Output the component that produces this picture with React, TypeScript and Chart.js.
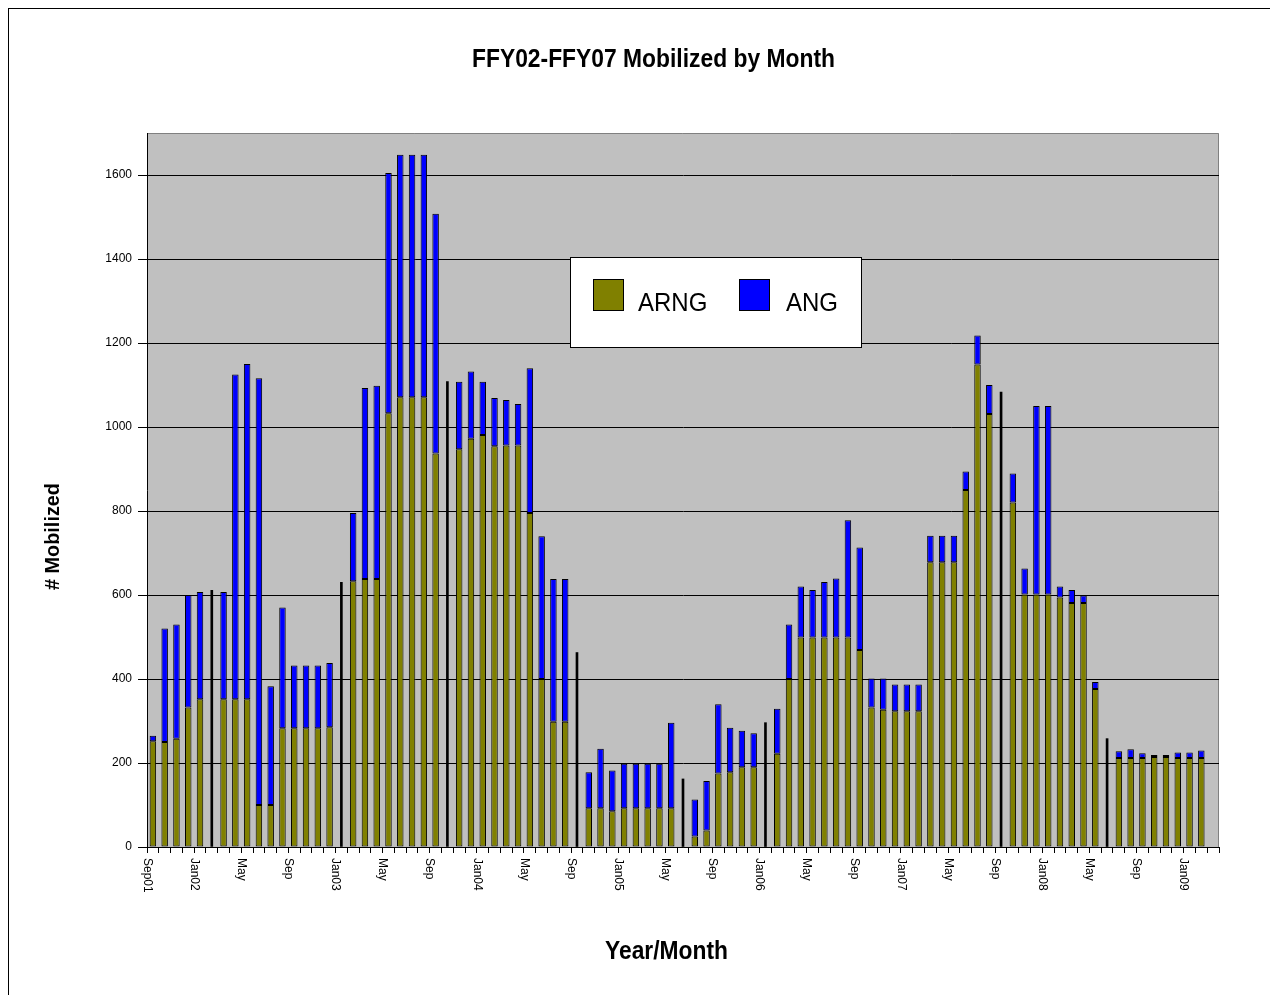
import React, { useEffect, useRef } from "react";
import { Chart, registerables } from "chart.js";

Chart.register(...registerables);

const FONT = "'Liberation Sans', Arial, sans-serif";

// One category per month, Sep 2001 through Mar 2009
const months = [
  "Sep01", "Oct01", "Nov01", "Dec01",
  "Jan02", "Feb02", "Mar02", "Apr02", "May02", "Jun02", "Jul02", "Aug02", "Sep02", "Oct02", "Nov02", "Dec02",
  "Jan03", "Feb03", "Mar03", "Apr03", "May03", "Jun03", "Jul03", "Aug03", "Sep03", "Oct03", "Nov03", "Dec03",
  "Jan04", "Feb04", "Mar04", "Apr04", "May04", "Jun04", "Jul04", "Aug04", "Sep04", "Oct04", "Nov04", "Dec04",
  "Jan05", "Feb05", "Mar05", "Apr05", "May05", "Jun05", "Jul05", "Aug05", "Sep05", "Oct05", "Nov05", "Dec05",
  "Jan06", "Feb06", "Mar06", "Apr06", "May06", "Jun06", "Jul06", "Aug06", "Sep06", "Oct06", "Nov06", "Dec06",
  "Jan07", "Feb07", "Mar07", "Apr07", "May07", "Jun07", "Jul07", "Aug07", "Sep07", "Oct07", "Nov07", "Dec07",
  "Jan08", "Feb08", "Mar08", "Apr08", "May08", "Jun08", "Jul08", "Aug08", "Sep08", "Oct08", "Nov08", "Dec08",
  "Jan09", "Feb09", "Mar09",
];

// Axis text printed under every fourth month
const tickText = [
  "Sep01", "Jan02", "May", "Sep", "Jan03", "May", "Sep", "Jan04", "May", "Sep", "Jan05", "May",
  "Sep", "Jan06", "May", "Sep", "Jan07", "May", "Sep", "Jan08", "May", "Sep", "Jan09",
];
const tickEvery = 4;

const yTicks = [0, 200, 400, 600, 800, 1000, 1200, 1400, 1600];

// Army National Guard mobilized per month
const arng = [
  252, 250, 258, 332,
  352, null, 352, 352, 352, 100, 100, 283, 283, 283, 283, 285,
  null, 633, 638, 638, 1033, 1071, 1071, 1071, 937, null, 947, 972,
  981, 954, 956, 956, 795, 400, 298, 298, null, 92, 92, 85,
  92, 92, 92, 92, 92, null, 25, 39, 175, 178, 190, 190,
  null, 222, 400, 499, 499, 499, 499, 499, 469, 332, 327, 323,
  323, 323, 678, 678, 678, 850, 1149, 1031, null, 820, 601, 601,
  601, 594, 581, 581, 376, null, 212, 212, 212, 214, 214, 212,
  212, 212, null,
];

// Air National Guard mobilized per month
const ang = [
  13, 270, 272, 268,
  255, null, 255, 773, 798, 1016, 283, 287, 149, 149, 149, 153,
  null, 162, 455, 460, 572, 577, 577, 577, 571, null, 161, 160,
  127, 115, 108, 99, 345, 340, 340, 340, null, 86, 142, 97,
  106, 106, 106, 106, 204, null, 88, 118, 165, 106, 87, 81,
  null, 107, 130, 121, 113, 132, 140, 279, 244, 69, 74, 64,
  64, 64, 63, 63, 63, 44, 69, 69, null, 69, 62, 449,
  449, 26, 31, 18, 17, null, 16, 21, 11, 5, 5, 13,
  13, 18, null,
];

// Months shown only as a combined total (drawn as a thin dark bar)
const combinedOnly = [
  null, null, null, null,
  null, 611, null, null, null, null, null, null, null, null, null, null,
  630, null, null, null, null, null, null, null, null, 1108, null, null,
  null, null, null, null, null, null, null, null, 463, null, null, null,
  null, null, null, null, null, 162, null, null, null, null, null, null,
  296, null, null, null, null, null, null, null, null, null, null, null,
  null, null, null, null, null, null, null, null, 1083, null, null, null,
  null, null, null, null, null, 258, null, null, null, null, null, null,
  null, null, null,
];

function drawText(
  ctx: CanvasRenderingContext2D,
  text: string,
  x: number,
  y: number,
  font: string,
  opts: { align?: CanvasTextAlign; baseline?: CanvasTextBaseline; width?: number; sy?: number; rotate?: number } = {}
) {
  ctx.save();
  ctx.font = font;
  ctx.translate(x, y);
  if (opts.rotate) ctx.rotate(opts.rotate);
  const natural = ctx.measureText(text).width;
  const sx = opts.width ? opts.width / natural : 1;
  ctx.scale(sx, opts.sy ?? 1);
  ctx.textAlign = opts.align ?? "center";
  ctx.textBaseline = opts.baseline ?? "alphabetic";
  ctx.fillStyle = "#000";
  ctx.fillText(text, 0, 0);
  ctx.restore();
}

const frame = {
  id: "frame",
  beforeDraw(chart: any) {
    const { ctx, chartArea: a } = chart;
    ctx.save();
    ctx.fillStyle = "#ffffff";
    ctx.fillRect(0, 0, chart.width, chart.height);
    ctx.fillStyle = "#C0C0C0";
    ctx.fillRect(a.left, a.top, a.right - a.left, a.bottom - a.top);
    ctx.strokeStyle = "#808080";
    ctx.lineWidth = 1;
    ctx.beginPath();
    ctx.moveTo(a.left, a.top + 0.5);
    ctx.lineTo(a.right - 0.5, a.top + 0.5);
    ctx.lineTo(a.right - 0.5, a.bottom);
    ctx.stroke();
    ctx.restore();
  },
  afterDraw(chart: any) {
    const { ctx, chartArea: a } = chart;
    const xs = chart.scales.x;

    // Titles
    drawText(ctx, "FFY02-FFY07 Mobilized by Month", 644.5, 58, `bold 23px ${FONT}`, { width: 363, sy: 1.1 });
    drawText(ctx, "Year/Month", 657.5, 950, `bold 22px ${FONT}`, { width: 123, sy: 1.15 });
    drawText(ctx, "# Mobilized", 45, 527.5, `bold 18px ${FONT}`, {
      width: 107,
      sy: 1.1,
      rotate: -Math.PI / 2,
      baseline: "middle",
    });

    // Month labels, written downward beneath the axis
    const step = xs.getPixelForValue(1) - xs.getPixelForValue(0);
    tickText.forEach((t, i) => {
      const x = xs.getPixelForValue(i * tickEvery) - step / 2;
      drawText(ctx, t, x, a.bottom + 11, `12px ${FONT}`, {
        align: "left",
        baseline: "middle",
        rotate: Math.PI / 2,
      });
    });

    // Legend box
    const lx = 561, ly = 248, lw = 292, lh = 91;
    ctx.save();
    ctx.fillStyle = "#ffffff";
    ctx.fillRect(lx, ly, lw, lh);
    ctx.strokeStyle = "#000";
    ctx.lineWidth = 1;
    ctx.strokeRect(lx + 0.5, ly + 0.5, lw - 1, lh - 1);
    const entries = [
      { ds: chart.data.datasets[0], box: 584, text: 629 },
      { ds: chart.data.datasets[1], box: 730, text: 777 },
    ];
    entries.forEach((e) => {
      ctx.fillStyle = e.ds.backgroundColor;
      ctx.fillRect(e.box, 270, 31, 32);
      ctx.strokeStyle = "#000";
      ctx.strokeRect(e.box + 0.5, 270.5, 30, 31);
      drawText(ctx, e.ds.label, e.text, 302, `24px ${FONT}`, { align: "left", sy: 1.1 });
    });
    ctx.restore();
  },
};

export default function App() {
  const ref = useRef<HTMLCanvasElement | null>(null);

  useEffect(() => {
    if (!ref.current) return;
    const chart = new Chart(ref.current, {
      type: "bar",
      data: {
        labels: months,
        datasets: [
          {
            label: "ARNG",
            data: arng,
            backgroundColor: "#808000",
            borderColor: "#000000",
            borderWidth: 1,
            borderSkipped: false,
            barPercentage: 0.55,
            categoryPercentage: 1,
          },
          {
            label: "ANG",
            data: ang,
            backgroundColor: "#0000FF",
            borderColor: "#000000",
            borderWidth: 1,
            borderSkipped: false,
            barPercentage: 0.55,
            categoryPercentage: 1,
          },
          {
            label: "Total",
            data: combinedOnly,
            backgroundColor: "#000000",
            borderWidth: 0,
            barThickness: 2,
          },
        ],
      } as any,
      options: {
        animation: false,
        responsive: false,
        layout: { padding: { top: 124, right: 51, bottom: 0, left: 0 } },
        plugins: {
          legend: { display: false },
          title: { display: false },
          tooltip: { enabled: false },
        },
        scales: {
          x: {
            stacked: true,
            offset: true,
            grid: {
              display: true,
              offset: true,
              drawOnChartArea: false,
              drawTicks: true,
              tickLength: 6,
              color: "#000",
            },
            border: { color: "#000", width: 1 },
            ticks: { display: false, autoSkip: false },
            afterFit: (s: any) => {
              s.height = 148;
            },
          },
          y: {
            stacked: true,
            min: 0,
            max: 1700,
            grid: { color: "#000", drawTicks: true, tickLength: 9 },
            border: { color: "#000", width: 1 },
            ticks: {
              color: "#000",
              padding: 6,
              font: { size: 12, family: FONT },
              callback: (v: any) => String(v),
            },
            afterBuildTicks: (s: any) => {
              s.ticks = yTicks.map((v) => ({ value: v }));
            },
            afterFit: (s: any) => {
              s.width = 138;
            },
          },
        },
      } as any,
      plugins: [frame],
    });
    return () => chart.destroy();
  }, []);

  return (
    <div
      style={{
        position: "fixed",
        left: 8,
        top: 8,
        width: 1262,
        height: 987,
        boxSizing: "border-box",
        borderLeft: "1px solid #000",
        borderTop: "1px solid #000",
        background: "#fff",
      }}
    >
      <canvas ref={ref} width={1261} height={986} style={{ display: "block", width: 1261, height: 986 }} />
    </div>
  );
}
